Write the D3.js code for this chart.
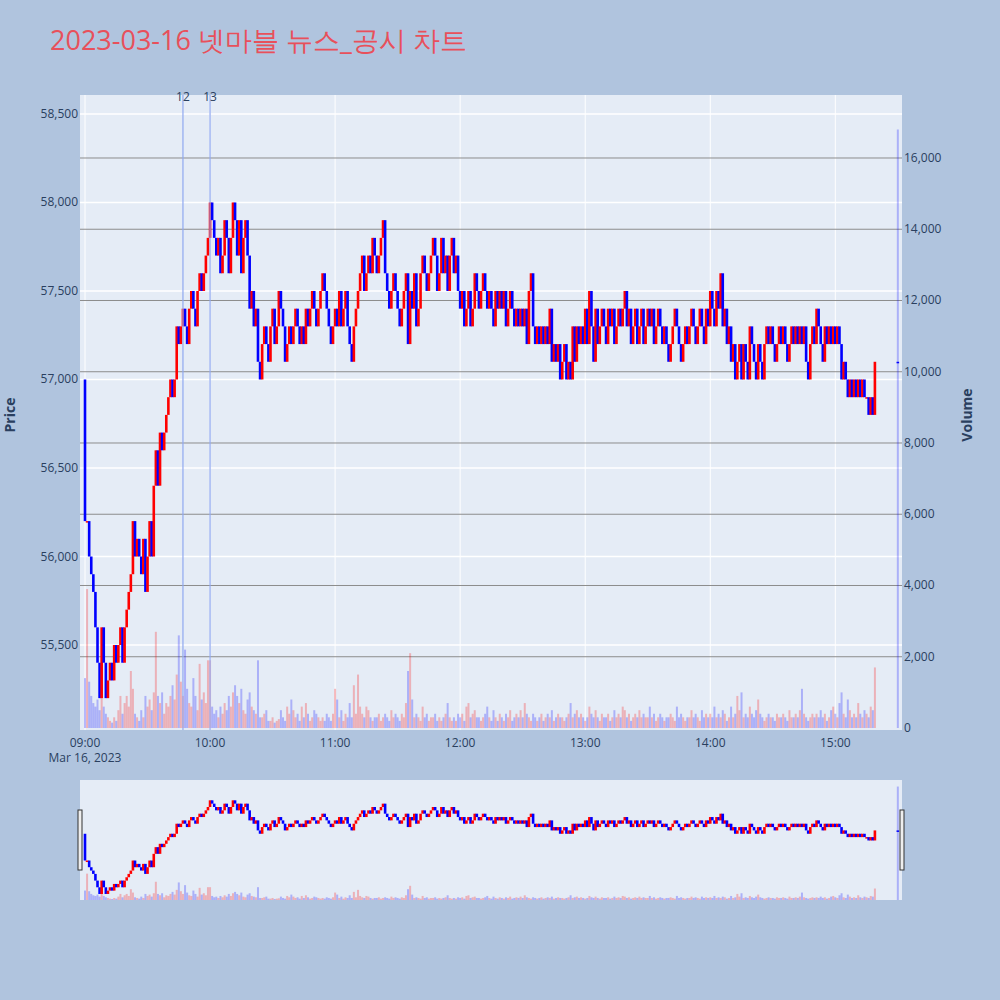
<!DOCTYPE html>
<html><head><meta charset="utf-8">
<script src="https://cdn.jsdelivr.net/npm/d3@7"></script>
<style>body{margin:0;background:#b0c4de;font-family:"Open Sans",sans-serif}</style>
</head><body><svg id="chart" width="1000" height="1000"></svg>
<script>
// per-minute closes 09:00 .. 15:19, then closing auction 15:30
var closes = [
56200,56200,56000,55900,55800,55600,55400,55200,55600,55400,
55200,55300,55400,55300,55500,55400,55500,55600,55400,55600,
55700,55800,55900,56200,56000,56100,56000,55900,56100,55800,
56000,56200,56000,56400,56600,56400,56700,56600,56700,56800,
56900,57000,56900,57000,57300,57200,57300,57400,57300,57200,
57400,57500,57400,57300,57500,57600,57500,57600,57700,57800,
58000,57900,57800,57700,57800,57600,57700,57900,57800,57600,
57800,58000,57900,57700,57900,57600,57800,57900,57700,57400,
57500,57300,57400,57100,57000,57200,57300,57200,57100,57300,
57400,57200,57300,57500,57400,57300,57100,57200,57300,57200,
57300,57400,57300,57200,57300,57200,57400,57300,57400,57500,
57400,57300,57400,57500,57600,57500,57400,57300,57200,57300,
57400,57300,57500,57300,57400,57500,57300,57200,57100,57300,
57400,57500,57600,57700,57500,57600,57700,57600,57800,57700,
57600,57700,57800,57900,57600,57500,57400,57500,57600,57500,
57400,57300,57400,57500,57600,57200,57500,57400,57600,57300,
57400,57600,57700,57600,57500,57600,57700,57800,57700,57500,
57600,57800,57600,57700,57500,57700,57800,57600,57700,57500,
57400,57500,57300,57400,57500,57300,57400,57600,57500,57400,
57500,57600,57500,57400,57500,57400,57300,57500,57400,57500,
57400,57500,57300,57400,57500,57400,57300,57400,57300,57400,
57300,57400,57200,57500,57600,57300,57200,57300,57200,57300,
57200,57300,57200,57400,57100,57200,57100,57200,57000,57100,
57200,57000,57100,57000,57300,57100,57300,57200,57300,57200,
57400,57200,57500,57300,57100,57400,57200,57300,57400,57300,
57200,57400,57300,57400,57200,57300,57400,57300,57400,57500,
57300,57400,57200,57300,57400,57200,57300,57400,57200,57300,
57400,57300,57400,57200,57300,57400,57300,57200,57300,57200,
57100,57200,57300,57400,57300,57200,57100,57200,57300,57200,
57300,57400,57300,57200,57300,57400,57300,57200,57400,57300,
57500,57400,57300,57500,57400,57600,57300,57400,57200,57300,
57100,57200,57000,57100,57200,57000,57200,57100,57000,57300,
57200,57100,57000,57200,57100,57000,57200,57300,57200,57300,
57200,57100,57200,57300,57200,57300,57200,57100,57200,57300,
57200,57300,57200,57300,57200,57300,57100,57000,57200,57300,
57200,57400,57300,57200,57100,57300,57200,57300,57200,57300,
57200,57300,57200,57000,57100,57000,56900,57000,56900,57000,
56900,57000,56900,57000,56900,56900,56800,56900,56800,57100,
57100];
var firstOpen = 57000;
var volumes = [
1400,3900,1300,900,700,600,800,500,1200,600,
400,300,200,150,300,200,500,900,400,700,
900,600,1600,1100,400,300,200,500,300,900,
600,800,500,1000,2700,900,700,1000,400,700,
600,900,1200,800,1500,2600,1300,900,2200,1100,
700,600,1400,900,500,1800,800,1000,700,1900,
1900,600,400,500,300,600,400,700,500,900,
600,1000,1200,900,700,1100,500,400,800,1000,
600,500,400,1900,300,300,400,500,200,200,
300,150,200,250,500,300,200,600,400,800,
500,300,400,200,600,300,700,400,200,300,
500,400,300,200,300,200,400,300,200,400,
1100,800,300,500,200,400,300,700,300,1200,
400,1500,600,400,300,600,500,300,200,300,
300,400,200,300,400,300,200,500,300,400,
300,200,400,300,700,1600,2100,800,300,400,
300,200,600,300,400,200,300,300,400,200,
300,200,300,400,700,300,200,300,200,400,
300,400,200,600,700,300,400,500,300,300,
200,300,400,600,300,200,500,300,200,400,
300,200,400,300,500,200,300,400,300,500,
300,700,400,300,200,400,300,200,300,400,
200,300,400,300,500,200,300,400,300,300,
200,300,400,700,300,400,500,300,400,300,
200,300,600,400,300,500,300,200,400,300,
300,400,200,300,500,300,400,300,600,500,
300,400,200,300,400,300,500,300,400,300,
300,600,300,400,200,300,400,300,200,300,
300,400,300,200,600,300,400,300,200,300,
300,500,300,400,300,200,500,300,400,300,
400,300,600,300,400,300,500,400,200,300,
600,300,400,900,500,1000,300,400,300,600,
400,300,500,800,400,300,200,300,400,300,
300,200,400,300,300,400,300,200,500,300,
300,400,300,500,1100,400,300,200,300,400,
300,400,300,500,300,400,200,300,500,600,
400,300,700,1000,400,300,800,500,300,400,
300,700,400,300,500,400,300,600,500,1700,
16800];
var markers = [{label: "12", t: "09:47"}, {label: "13", t: "10:00"}];

var UP = "#ff0000", DOWN = "#0000ff";
var parse = d3.timeParse("%H:%M");
var data = closes.map(function(c, i) {
  var t = i < closes.length - 1 ? new Date(1900, 0, 1, 9, i) : new Date(1900, 0, 1, 15, 30);
  var o = i === 0 ? firstOpen : closes[i - 1];
  return {t: t, o: o, c: c, v: volumes[i]};
});
function col(d, i) { return i === data.length - 1 ? DOWN : (d.c >= d.o ? UP : DOWN); }

var svg = d3.select("#chart");
var L = 80, R = 902, T = 95, B = 730;
var x = d3.scaleTime().domain([new Date(1900,0,1,8,57,36), new Date(1900,0,1,15,32)]).range([L, R]);
var y = d3.scaleLinear().domain([55020, 58607]).range([B, T]);
var yv = d3.scaleLinear().domain([0, 17768]).range([728, T]);

svg.append("text").attr("x", 50).attr("y", 50).attr("fill", "#e8505b")
  .attr("font-size", 27).text("2023-03-16 넷마블 뉴스_공시 차트");

svg.append("rect").attr("x", L).attr("y", T).attr("width", R - L).attr("height", B - T).attr("fill", "#e5ecf6");

// grid
svg.append("g").selectAll("line").data(y.ticks(8).filter(function(d){return d>=55500;})).join("line")
  .attr("x1", L).attr("x2", R).attr("y1", y).attr("y2", y).attr("stroke", "#fff").attr("stroke-width", 1.5);
svg.append("g").selectAll("line").data(x.ticks(d3.timeHour.every(1))).join("line")
  .attr("y1", T).attr("y2", B).attr("x1", x).attr("x2", x).attr("stroke", "#fff");
svg.append("g").selectAll("line").data(d3.range(2000, 17000, 2000)).join("line")
  .attr("x1", L).attr("x2", R).attr("y1", yv).attr("y2", yv).attr("stroke", "#8c8c8c").attr("stroke-width", 1);

function drawMarks(g, xs, ys, yvs, bw) {
  g.append("g").selectAll("rect").data(data).join("rect")
    .attr("x", function(d){return xs(d.t) - 1;}).attr("width", 2)
    .attr("y", function(d){return yvs(d.v);}).attr("height", function(d){return yvs(0) - yvs(d.v);})
    .attr("fill", col).attr("opacity", 0.25);
  g.append("g").selectAll("rect").data(data).join("rect")
    .attr("x", function(d){return xs(d.t) - bw/2;}).attr("width", bw)
    .attr("y", function(d){return ys(Math.max(d.o, d.c));})
    .attr("height", function(d){return Math.max(1.5, Math.abs(ys(d.o) - ys(d.c)));})
    .attr("fill", col);
}
drawMarks(svg.append("g"), x, y, yv, 2.6);

// markers
markers.forEach(function(m) {
  var xm = x(parse(m.t));
  svg.append("line").attr("x1", xm).attr("x2", xm).attr("y1", T).attr("y2", B).attr("stroke", "#8fa8f0").attr("stroke-width", 1.2);
  svg.append("text").attr("x", xm).attr("y", 101).attr("text-anchor", "middle").attr("font-size", 12).attr("fill", "#2a3f5f").text(m.label);
});

// axes
var ax = svg.append("g").attr("font-size", 12).attr("fill", "#2a3f5f");
ax.selectAll(".yl").data(y.ticks(8).filter(function(d){return d>=55500;})).join("text")
  .attr("x", L - 2).attr("y", function(d){return y(d) + 4;}).attr("text-anchor", "end").text(d3.format(","));
ax.selectAll(".vl").data(d3.range(0, 17000, 2000)).join("text")
  .attr("x", R + 2).attr("y", function(d){return yv(d) + 4;}).text(d3.format(","));
ax.selectAll(".xl").data(x.ticks(d3.timeHour.every(1))).join("text")
  .attr("x", x).attr("y", 747).attr("text-anchor", "middle").text(d3.timeFormat("%H:%M"));
ax.append("text").attr("x", 85).attr("y", 762).attr("text-anchor", "middle").text("Mar 16, 2023");
svg.append("text").attr("transform", "translate(15,415) rotate(-90)").attr("text-anchor", "middle")
  .attr("font-size", 14).attr("font-weight", "bold").attr("fill", "#2a3f5f").text("Price");
svg.append("text").attr("transform", "translate(972,415) rotate(-90)").attr("text-anchor", "middle")
  .attr("font-size", 14).attr("font-weight", "bold").attr("fill", "#2a3f5f").text("Volume");

// range slider
var RT = 780, RB = 900;
svg.append("rect").attr("x", L).attr("y", RT).attr("width", R - L).attr("height", RB - RT).attr("fill", "#e5ecf6");
var ry = d3.scaleLinear().domain(y.domain()).range([RB, RT]);
var ryv = d3.scaleLinear().domain(yv.domain()).range([RB, RT]);
drawMarks(svg.append("g"), x, ry, ryv, 2.6);
[L, R].forEach(function(hx) {
  svg.append("rect").attr("x", hx - 2).attr("y", 810).attr("width", 4).attr("height", 60)
    .attr("fill", "#eee").attr("stroke", "#333").attr("stroke-width", 1);
});
</script></body></html>
